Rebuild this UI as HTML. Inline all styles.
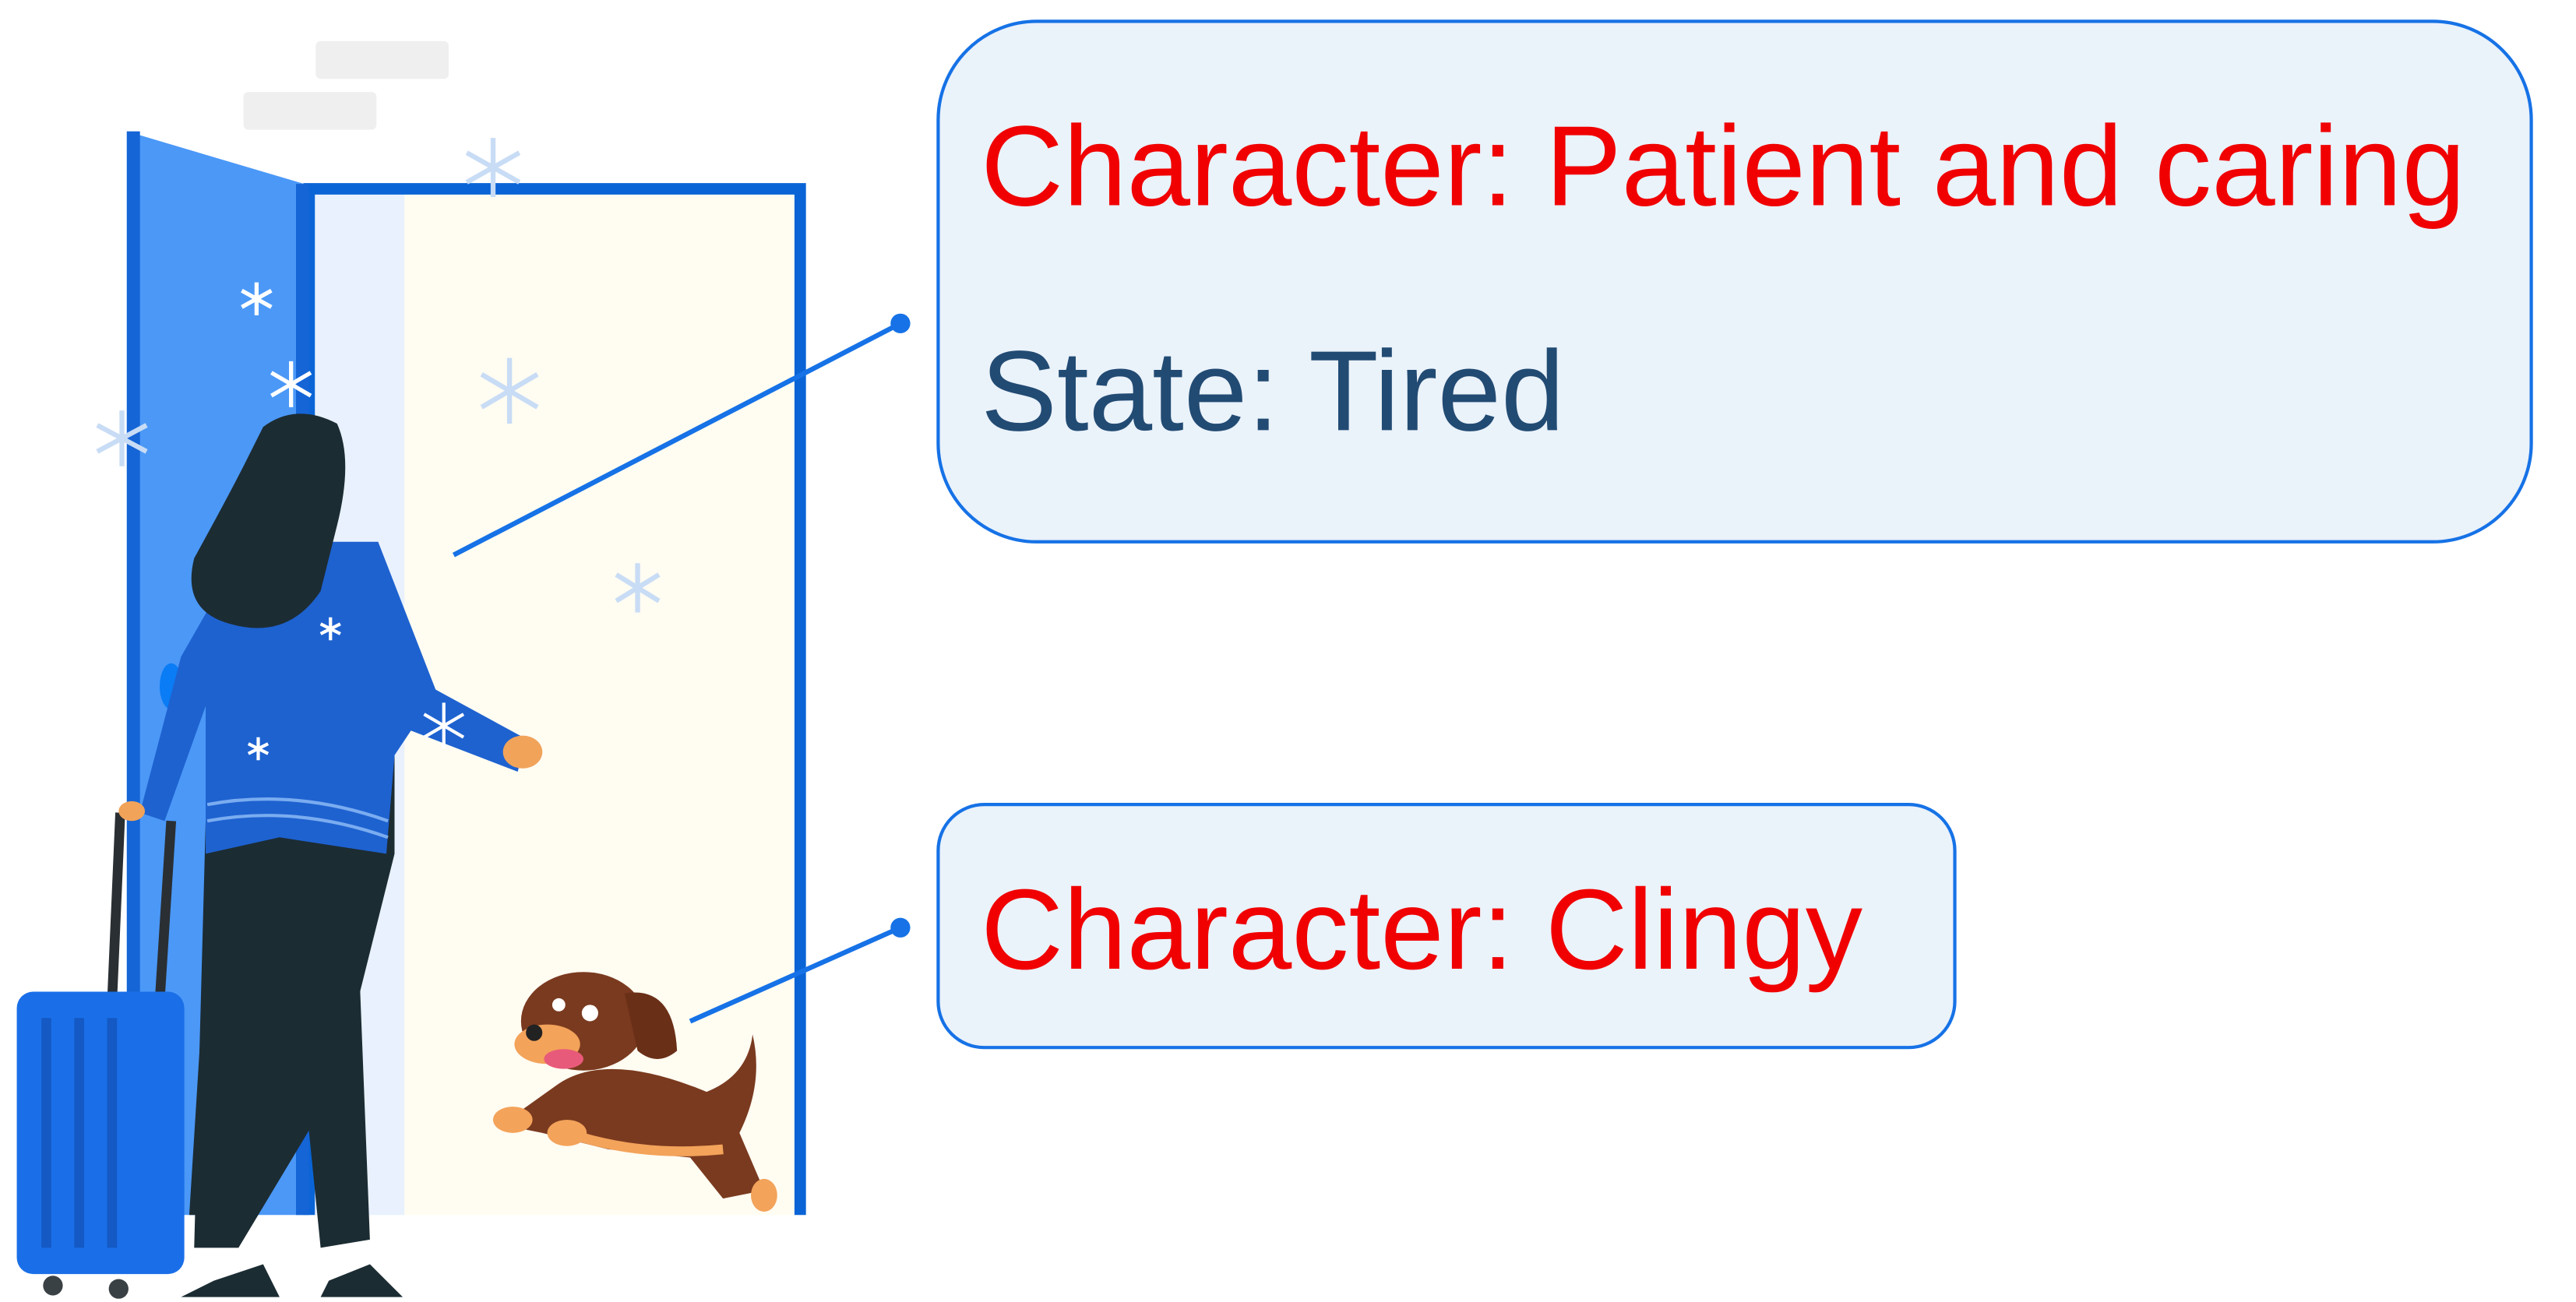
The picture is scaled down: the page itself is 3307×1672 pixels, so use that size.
<!DOCTYPE html>
<html><head><meta charset="utf-8"><style>html,body{margin:0;padding:0;background:#fff}svg{display:block}</style></head>
<body>
<svg width="3307" height="1672" viewBox="0 0 1568 793" xmlns="http://www.w3.org/2000/svg" font-family="Liberation Sans, sans-serif">
<rect width="1568" height="793" fill="#fff"/>
<rect x="192" y="25" width="81" height="23" rx="3" fill="#efefef"/>
<rect x="148" y="56" width="81" height="23" rx="3" fill="#efefef"/>
<rect x="190" y="116" width="297" height="624" fill="#fffcf2"/>
<rect x="190" y="116" width="56" height="624" fill="#e8f1fd"/>
<path d="M188 740 V115 H487 V740" fill="none" stroke="#0a64d6" stroke-width="7"/>
<polygon points="77,80 185,112 185,740 77,740" fill="#4b98f7"/>
<rect x="77" y="80" width="8" height="660" fill="#1565d6"/>
<rect x="180" y="112" width="8" height="628" fill="#1565d6"/>
<ellipse cx="104" cy="418" rx="7" ry="14" fill="#0a7cf5"/>
<g fill="none" stroke="#c8dcf5" stroke-width="3">
<g transform="translate(300,102)"><path d="M0-18V18M-16-9L16 9M-16 9L16-9"/></g>
<g transform="translate(310,238)"><path d="M0-20V20M-17-10L17 10M-17 10L17-10"/></g>
<g transform="translate(388,358)"><path d="M0-15V15M-13-8L13 8M-13 8L13-8"/></g>
<g transform="translate(74,267)"><path d="M0-17V17M-15-8L15 8M-15 8L15-8"/></g>
</g>
<g fill="none" stroke="#fff" stroke-width="2.5">
<g transform="translate(156,182)"><path d="M0-10V10M-9-5L9 5M-9 5L9-5"/></g>
<g transform="translate(177,234)"><path d="M0-14V14M-12-7L12 7M-12 7L12-7"/></g>
</g>
<path d="M205 660 L240 520 L240 460 L125 500 L118 760 L145 760 Z" fill="#1c2c33"/>
<path d="M130 500 L215 500 L225 755 L195 760 L175 560 L145 740 L115 740 Z" fill="#1c2c33"/>
<path d="M130 780 L160 770 L170 790 L110 790 Z M200 780 L225 770 L245 790 L195 790 Z" fill="#1c2c33"/>
<path d="M150 330 L230 330 L265 420 L320 450 L315 470 L250 445 L240 460 L235 520 L170 510 L125 520 L125 430 L100 500 L85 495 L110 400 Z" fill="#1e62d0"/>
<path d="M126 500 Q180 490 236 510" stroke="#7aacf0" stroke-width="2" fill="none"/>
<path d="M126 490 Q180 480 236 500" stroke="#7aacf0" stroke-width="2" fill="none"/>
<ellipse cx="318" cy="458" rx="12" ry="10" fill="#f1a35a"/>
<path d="M160 260 Q180 245 205 258 Q215 280 205 320 L195 360 Q175 390 140 380 Q110 372 118 340 Q140 300 150 280 Z" fill="#1c2c33"/>
<g fill="none" stroke="#fff" stroke-width="2"><g transform="translate(201,383)"><path d="M0-7V7M-6-3L6 3M-6 3L6-3"/></g><g transform="translate(157,456)"><path d="M0-7V7M-6-3L6 3M-6 3L6-3"/></g><g transform="translate(270,442)"><path d="M0-14V14M-12-7L12 7M-12 7L12-7"/></g></g>
<path d="M73 495 L68 610 M104 500 L97 610" stroke="#2a2f33" stroke-width="6"/>
<ellipse cx="80" cy="494" rx="8" ry="6" fill="#f1a35a"/>
<rect x="10" y="604" width="102" height="172" rx="10" fill="#1a6fe8"/>
<path d="M28 620V760M48 620V760M68 620V760" stroke="#1459c4" stroke-width="6"/>
<circle cx="32" cy="783" r="6" fill="#3a4145"/><circle cx="72" cy="785" r="6" fill="#3a4145"/>
<path d="M340 660 Q370 640 430 665 Q455 655 458 630 Q465 660 450 690 L465 725 L440 730 L420 705 L370 700 L330 690 L305 685 Z" fill="#7a3a1f"/>
<path d="M345 690 Q390 705 440 700" stroke="#f3a35a" stroke-width="6" fill="none"/>
<ellipse cx="355" cy="622" rx="38" ry="30" fill="#7a3a1f"/>
<path d="M380 605 Q410 600 412 640 Q400 650 388 640 Z" fill="#6a2f17"/>
<ellipse cx="333" cy="636" rx="20" ry="12" fill="#f3a35a"/>
<ellipse cx="343" cy="645" rx="12" ry="6" fill="#e85a7a"/>
<circle cx="325" cy="629" r="5" fill="#222"/>
<circle cx="340" cy="612" r="4" fill="#fff"/><circle cx="359" cy="617" r="5" fill="#fff"/>
<ellipse cx="312" cy="682" rx="12" ry="8" fill="#f3a35a"/><ellipse cx="345" cy="690" rx="12" ry="8" fill="#f3a35a"/>
<ellipse cx="465" cy="728" rx="8" ry="10" fill="#f3a35a"/>
<line x1="548" y1="197" x2="276" y2="338" stroke="#1672e6" stroke-width="3"/>
<circle cx="548" cy="197" r="6" fill="#1672e6"/>
<line x1="548" y1="565" x2="420" y2="622" stroke="#1672e6" stroke-width="3"/>
<circle cx="548" cy="565" r="6" fill="#1672e6"/>
<rect x="571" y="13" width="970" height="317" rx="60" fill="#eaf2fa" stroke="#1672e6" stroke-width="2"/>
<text x="597" y="125" font-size="69.5" fill="#f00000">Character: Patient and caring</text>
<text x="597" y="262" font-size="69.5" fill="#224b73">State: Tired</text>
<rect x="571" y="490" width="619" height="148" rx="28" fill="#eaf2fa" stroke="#1672e6" stroke-width="2"/>
<text x="597" y="590" font-size="69.5" fill="#f00000">Character: Clingy</text>
</svg>
</body></html>
